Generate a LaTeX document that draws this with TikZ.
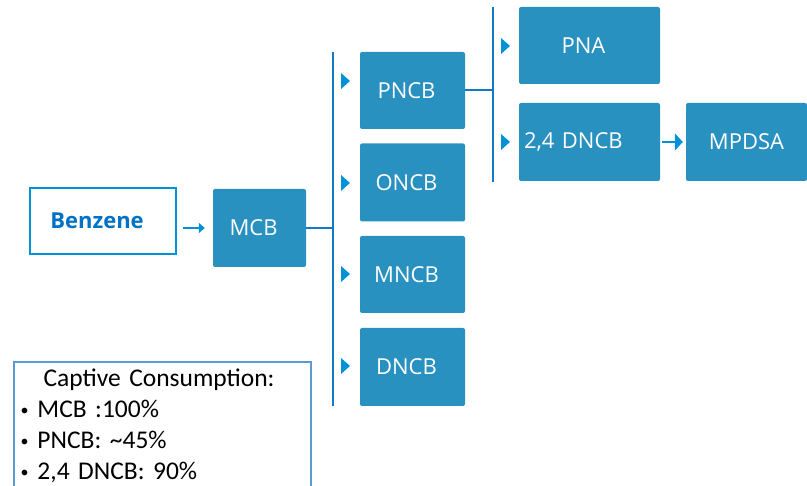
\documentclass[tikz,border=0pt]{standalone}
\usepackage{fontspec}
\setmainfont{Open Sans}
\newfontfamily\notefont{Carlito}
\usetikzlibrary{arrows.meta}
\definecolor{boxblue}{RGB}{41,145,192}
\definecolor{lineblue}{RGB}{18,122,196}
\definecolor{tipblue}{RGB}{0,146,216}
\definecolor{textblue}{RGB}{0,114,198}
\definecolor{noteblue}{RGB}{91,155,213}
\newcommand{\smallbul}{\raisebox{2.5pt}{\fontsize{16}{16}\selectfont\textbullet}\hspace{9pt}}

\begin{document}
\begin{tikzpicture}[x=1pt, y=-1pt,
    main/.style = {fill=boxblue, rounded corners=2pt, text=white, inner sep=0pt,
        minimum width=105pt, minimum height=78pt, font=\fontsize{22}{26}\selectfont},
    lshift/.style = {execute at begin node=\hspace*{-12pt}},
    link/.style = {draw=lineblue, line width=2pt},
    arr/.style = {draw=tipblue, line width=2pt}]
    \useasboundingbox (0,0) rectangle (807,486);

    \node[draw=tipblue, line width=2pt, minimum width=146pt, minimum height=66pt, lshift,
        text=textblue, font=\fontsize{22}{26}\selectfont\bfseries] (benz) at (103,221) {Benzene};
    \node[main, lshift, minimum width=93pt] (mcb) at (259.5,228) {MCB};
    \node[main, lshift, minimum height=77pt] (pncb) at (412.5,90.5) {PNCB};
    \node[main, lshift] (oncb) at (412.5,182.5) {ONCB};
    \node[main, lshift, minimum height=77pt] (mncb) at (412.5,274.5) {MNCB};
    \node[main, lshift] (dncb) at (412.5,367) {DNCB};
    \node[main, lshift, minimum width=141pt, minimum height=77pt] (pna) at (589.5,45.5) {PNA};
    \node[main, minimum width=141pt, text width=131pt, align=left] (dncb24) at (589.5,142) {2,4 DNCB};
    \node[main, minimum width=121pt] (mpdsa) at (746.5,142) {MPDSA};

    %branches
    \coordinate (b1top) at (333,52);
    \coordinate (b1bot) at (333,406);
    \coordinate (b2top) at (493,7);
    \coordinate (b2bot) at (493,182);
    \draw[link] (mcb.east) -- (mcb.east -| b1top);
    \draw[link] (b1top) -- (b1bot);
    \draw[link] (pncb.east) -- (pncb.east -| b2top);
    \draw[link] (b2top) -- (b2bot);
    \foreach \y in {81,183,274,366}
        \fill[tipblue] (341,\y-8) -- (350,\y) -- (341,\y+8) -- cycle;
    \foreach \y in {46,142}
        \fill[tipblue] (501,\y-8) -- (510,\y) -- (501,\y+8) -- cycle;

    %arrows
    \draw[arr, -{Triangle[length=6pt,width=10pt]}, shorten <=6pt, shorten >=8pt]
        (benz.east |- mcb.west) -- (mcb.west);
    \draw[arr, -{Triangle[length=8pt,width=17pt]}, shorten <=2pt, shorten >=3pt]
        (dncb24.east) -- (mpdsa.west);

    %note
    \node[draw=noteblue, line width=2pt, anchor=north west, minimum width=297pt,
        text width=284pt, align=left, inner xsep=6pt, inner ysep=0pt,
        font=\notefont\fontsize{25.5}{31}\selectfont] (note) at (13,361)
        {\rule{0pt}{25pt}\hspace*{23pt}Captive Consumption:\\
         \smallbul MCB :100\%\\
         \smallbul PNCB: \textasciitilde45\%\\
         \smallbul 2,4 DNCB: 90\%\\
         \rule{0pt}{30pt}};
\end{tikzpicture}
\end{document}
